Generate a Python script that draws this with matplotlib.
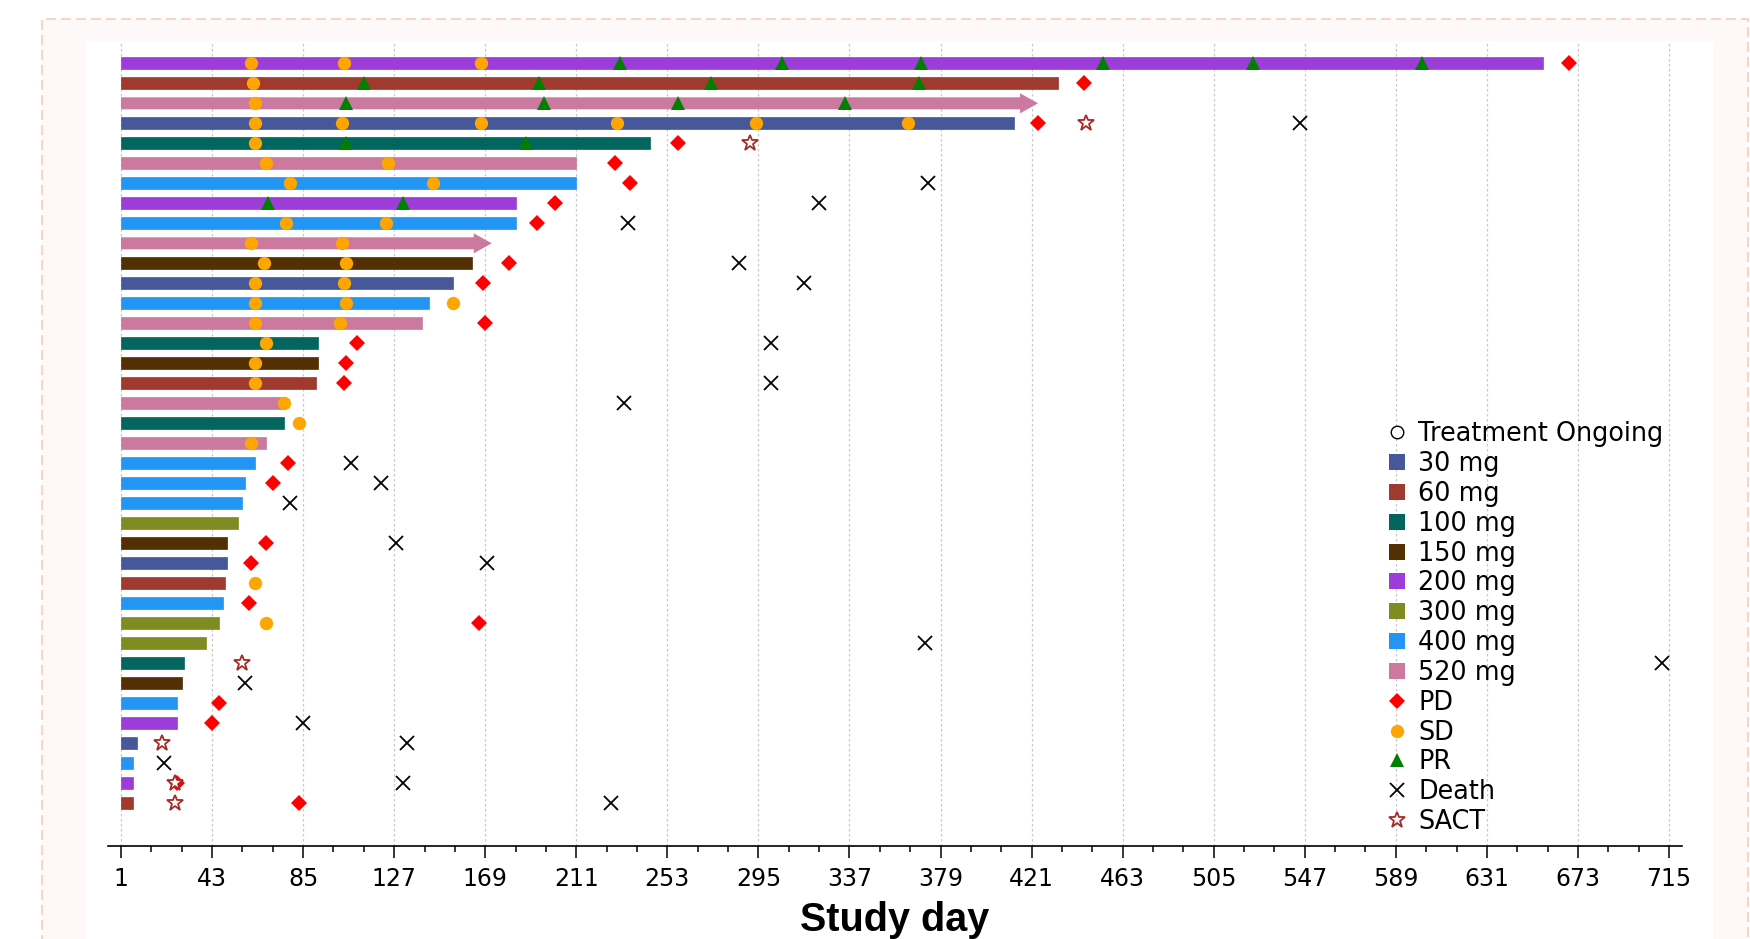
import matplotlib
matplotlib.use('Agg')
import matplotlib.pyplot as plt
from matplotlib.patches import Rectangle, FancyArrow
from matplotlib.lines import Line2D

# dose groups and colours
dose_names = ['30 mg', '60 mg', '100 mg', '150 mg', '200 mg', '300 mg', '400 mg', '520 mg']
dose_colors = ['#46579a', '#a03a2f', '#03665e', '#523004', '#9c3dd9', '#7f8c22', '#2396f5', '#cc79a0']

# one entry per patient, top row first
row_dose = ['200 mg', '60 mg', '520 mg', '30 mg', '100 mg', '520 mg', '400 mg', '200 mg', '400 mg', '520 mg',
            '150 mg', '30 mg', '400 mg', '520 mg', '100 mg', '150 mg', '60 mg', '520 mg', '100 mg', '520 mg',
            '400 mg', '400 mg', '400 mg', '300 mg', '150 mg', '30 mg', '60 mg', '400 mg', '300 mg', '300 mg',
            '100 mg', '150 mg', '400 mg', '200 mg', '30 mg', '400 mg', '200 mg', '60 mg']
bar_end = [657, 433, 424, 413, 245, 211, 211, 183, 183, 172,
           163, 154, 143, 140, 92, 92, 91, 76, 76, 68,
           63, 58, 57, 55, 50, 50, 49, 48, 46, 40,
           30, 29, 27, 27, 8.5, 6.5, 6.5, 6.5]
ongoing = [3, 10]  # rows still on treatment (drawn as arrows)

sd_days = [[61, 104, 167], [62], [63], [63, 103, 167, 230, 294, 364], [63], [68, 124], [79, 145], [], [77, 123], [61, 103],
           [67, 105], [63, 104], [63, 105, 154], [63, 102], [68], [63], [63], [76], [83], [61],
           [], [], [], [], [], [], [63], [], [68], [],
           [], [], [], [], [], [], [], []]
pr_days = [[231, 306, 370, 454, 523, 601], [113, 194, 273, 369], [105, 196, 258, 335], [], [105, 188], [], [], [69, 131], [], [],
           [], [], [], [], [], [], [], [], [], [],
           [], [], [], [], [], [], [], [], [], [],
           [], [], [], [], [], [], [], []]
pd_day = [669, 445, None, 424, 258, 229, 236, 201, 193, None,
          180, 168, None, 169, 110, 105, 104, None, None, None,
          78, 71, None, None, 68, 61, None, 60, 166, None,
          None, None, 46, 43, None, None, 27, 83]
death_day = [None, None, None, 545, None, None, 373, 323, 235, None,
             286, 316, None, None, 301, None, 301, 233, None, None,
             107, 121, 79, None, 128, 170, None, None, None, 372,
             712, 58, None, 85, 133, 21, 131, 227]
sact_day = [None, None, None, 446, 291, None, None, None, None, None,
            None, None, None, None, None, None, None, None, None, None,
            None, None, None, None, None, None, None, None, None, None,
            57, None, None, None, 20, None, 26, 26]

tick_days = list(range(1, 716, 42))
minor_days = list(range(1, 716, 14))

W, H = 1750, 939
fig = plt.figure(figsize=(W / 100, H / 100), dpi=100)
fig.add_artist(Rectangle((42 / W, -0.05), (1748 - 42) / W, (H - 19) / H + 0.05, transform=fig.transFigure,
                         facecolor='#fff8f8', edgecolor='#ffc9bc', linestyle=(0, (6, 3)), lw=1.2, zorder=-3))
fig.add_artist(Rectangle((86 / W, -0.05), (1713 - 86) / W, (H - 41) / H + 0.05, transform=fig.transFigure,
                         facecolor='white', edgecolor='none', zorder=-2))

ax = fig.add_axes([108 / W, 93 / H, 1574 / W, 804.4 / H])
ax.set_facecolor('none')
n = len(row_dose)
cmap = dict(zip(dose_names, dose_colors))

for i in range(n):
    y = n - i
    c = cmap[row_dose[i]]
    if (i + 1) in ongoing:
        ax.add_patch(FancyArrow(1, y, bar_end[i] - 1, 0, width=0.6, head_width=1.0, head_length=8.3,
                                length_includes_head=True, color=c, lw=0, zorder=2))
    else:
        ax.barh(y, bar_end[i] - 1, left=1, height=0.6, color=c, edgecolor=c, lw=0.5, zorder=2)
    if sd_days[i]:
        ax.plot(sd_days[i], [y] * len(sd_days[i]), ls='none', marker='o', ms=9.6, mew=0, color='#ffa500', zorder=3)
    if pr_days[i]:
        ax.plot(pr_days[i], [y] * len(pr_days[i]), ls='none', marker='^', ms=10, mew=0, color='#008000', zorder=3)
    if pd_day[i] is not None:
        ax.plot([pd_day[i]], [y], ls='none', marker='D', ms=8, mew=0, color='#ff0000', zorder=3)
    if death_day[i] is not None:
        ax.plot([death_day[i]], [y], ls='none', marker='x', ms=10, mew=1.3, color='black', zorder=3)
    if sact_day[i] is not None:
        ax.plot([sact_day[i]], [y], ls='none', marker='*', ms=12, mew=1.3, mfc='white', mec='#a52a2a', zorder=4)

ax.set_xlim(-5, 721)
ax.set_ylim(-1.135, 39.085)
ax.set_xticks(tick_days)
ax.set_xticks(minor_days, minor=True)
ax.set_yticks([])
for s in ['left', 'top', 'right']:
    ax.spines[s].set_visible(False)
ax.spines['bottom'].set_linewidth(1.2)
ax.tick_params(axis='x', which='major', length=8.9, width=1.1, labelsize=17, pad=6.5)
ax.tick_params(axis='x', which='minor', length=4.6, width=1.1)
ax.grid(axis='x', which='major', linestyle=(0, (2, 2)), color='#c8c8c8', lw=0.9)
ax.set_axisbelow(True)
ax.set_xlabel('Study day', fontsize=28.5, fontweight='bold', family='Liberation Sans', labelpad=7)

handles = [Line2D([], [], ls='none', marker='o', ms=9, mfc='white', mec='black', mew=1)]
for c in dose_colors:
    handles.append(Line2D([], [], ls='none', marker='s', ms=12, mew=0, color=c))
handles += [Line2D([], [], ls='none', marker='D', ms=8, mew=0, color='#ff0000'),
            Line2D([], [], ls='none', marker='o', ms=9.6, mew=0, color='#ffa500'),
            Line2D([], [], ls='none', marker='^', ms=10, mew=0, color='#008000'),
            Line2D([], [], ls='none', marker='x', ms=10, mew=1.3, color='black'),
            Line2D([], [], ls='none', marker='*', ms=12, mew=1.3, mfc='white', mec='#a52a2a')]
labels = ['Treatment Ongoing'] + dose_names + ['PD', 'SD', 'PR', 'Death', 'SACT']
ax.legend(handles, labels, loc='upper left', bbox_to_anchor=(0.8107, 0.528), frameon=False, fontsize=18.4,
          handlelength=1.0, handletextpad=0.33, labelspacing=0.15, borderpad=0, borderaxespad=0)

fig.savefig('out.png', dpi=100)
